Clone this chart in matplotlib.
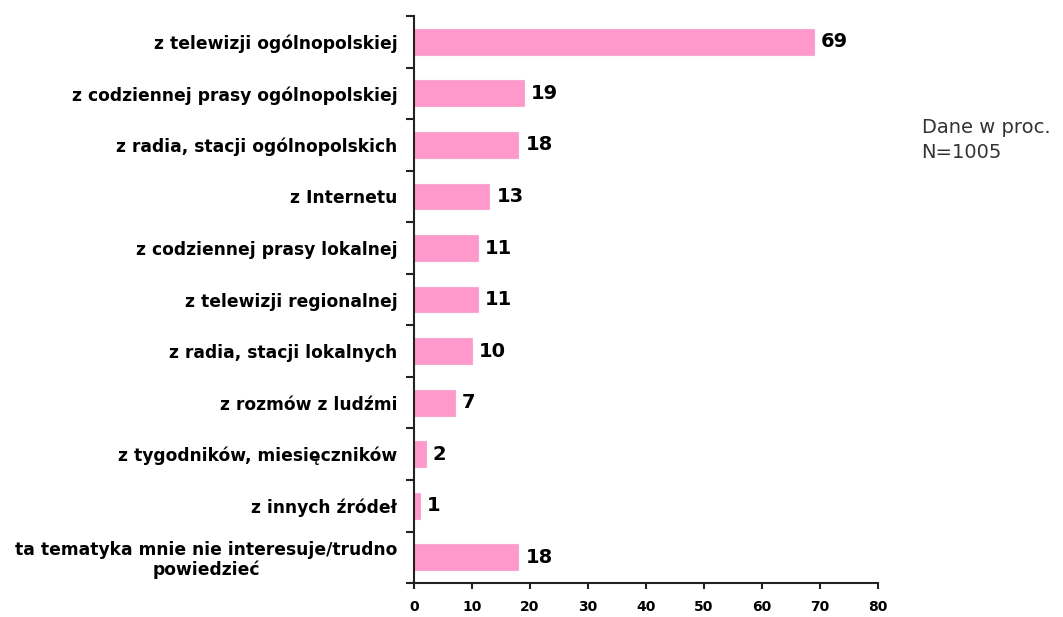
import numpy as np
import matplotlib.pyplot as plt

labels = [
    "z telewizji ogólnopolskiej",
    "z codziennej prasy ogólnopolskiej",
    "z radia, stacji ogólnopolskich",
    "z Internetu",
    "z codziennej prasy lokalnej",
    "z telewizji regionalnej",
    "z radia, stacji lokalnych",
    "z rozmów z ludźmi",
    "z tygodników, miesięczników",
    "z innych źródeł",
    "ta tematyka mnie nie interesuje/trudno\npowiedzieć",
]
values = [69, 19, 18, 13, 11, 11, 10, 7, 2, 1, 18]
xticks = [0, 10, 20, 30, 40, 50, 60, 70, 80]

fig = plt.figure(figsize=(10.63, 6.17), dpi=100)
ax = fig.add_axes([0.3895, 0.055, 0.4365, 0.919])

y = np.arange(len(labels))
ax.barh(y, values, height=0.5, color="#ff99cc", edgecolor="#f7a8d0", linewidth=0.8)

for yi, v in zip(y, values):
    ax.text(v + 1.2, yi, str(v), va="center", ha="left",
            fontsize=14, fontweight="bold", color="black")

ax.set_ylim(len(labels) - 0.5, -0.5)
ax.set_xlim(0, 80)
ax.set_xticks(xticks)
ax.set_xticklabels([str(t) for t in xticks], fontsize=10, fontweight="bold")

ax.set_yticks(y)
ax.set_yticklabels(labels, fontsize=12.3, fontweight="bold", multialignment="center",
                   linespacing=1.1)
ax.tick_params(axis="y", which="major", length=0, pad=12)
ax.set_yticks(np.arange(-0.5, len(labels), 1), minor=True)
ax.tick_params(axis="y", which="minor", length=6, width=1.5, color="#222222")
ax.tick_params(axis="x", length=4, width=1.5, color="#222222", pad=8)

for s in ["top", "right"]:
    ax.spines[s].set_visible(False)
for s in ["left", "bottom"]:
    ax.spines[s].set_linewidth(1.5)
    ax.spines[s].set_color("#222222")

fig.text(0.867, 0.808, "Dane w proc.\nN=1005", fontsize=14, color="#333333",
         va="top", ha="left", linespacing=1.4)

fig.savefig("out.png", dpi=100)
